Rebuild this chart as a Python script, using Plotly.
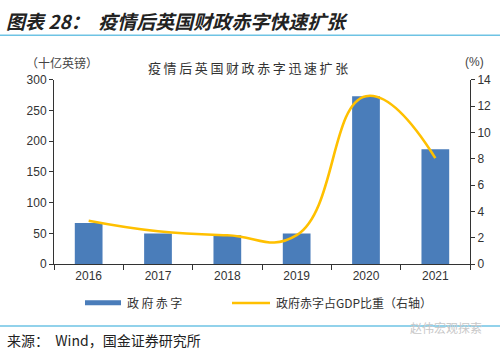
import plotly.graph_objects as go

years = ['2016', '2017', '2018', '2019', '2020', '2021']
deficit = [67, 50, 47, 50, 273, 187]
ratio = [3.3, 2.5, 2.2, 2.2, 12.75, 8.05]
left_ticks = [0, 50, 100, 150, 200, 250, 300]
right_ticks = [0, 2, 4, 6, 8, 10, 12, 14]

W, H = 500, 357
BLUE = '#4A7DBA'
GOLD = '#FFC000'
CJK = 'Noto Sans CJK SC'
LAT = 'Liberation Sans, Arial'
TS = '\u2009'

def px(x):
    return x / W

def py(y):
    return 1 - y / H

fig = go.Figure()
fig.add_trace(go.Bar(x=years, y=deficit, marker=dict(color=BLUE, line=dict(width=0)),
                     name='政府赤字', yaxis='y', showlegend=False))
fig.add_trace(go.Scatter(x=years, y=ratio, mode='lines', line=dict(color=GOLD, width=2.6, shape='spline', smoothing=1.3),
                         name='政府赤字占GDP比重（右轴）', yaxis='y2', showlegend=False))

tickfont = dict(family=LAT, size=12, color='#333')
fig.update_layout(
    width=W, height=H, margin=dict(l=0, r=0, t=0, b=0),
    paper_bgcolor='white', plot_bgcolor='white',
    bargap=0.6,
    xaxis=dict(domain=[px(54), px(470)], type='category', showline=True, linecolor='#333', linewidth=1,
               ticks='outside', tickson='boundaries', ticklen=5, tickcolor='#333',
               tickfont=tickfont, showgrid=False, anchor='y'),
    yaxis=dict(domain=[py(267.7), py(75.7)], range=[0, 300], tickvals=left_ticks, showline=True, linecolor='#333',
               linewidth=1, ticks='outside', ticklen=4, tickcolor='#333', showgrid=False, zeroline=False,
               tickfont=tickfont, anchor='x'),
    yaxis2=dict(domain=[py(267.7), py(75.7)], range=[0, 14], tickvals=right_ticks, overlaying='y', side='right',
                showline=True, linecolor='#333', linewidth=1, ticks='outside', ticklen=4, tickcolor='#333',
                showgrid=False, zeroline=False, tickfont=tickfont, anchor='x'),
)

shapes = [
    dict(type='line', xref='paper', yref='paper', x0=0, x1=1, y0=py(29.5), y1=py(29.5),
         line=dict(color='#6EC3E4', width=1.5)),
    dict(type='line', xref='paper', yref='paper', x0=0, x1=1, y0=py(332), y1=py(332),
         line=dict(color='#6EC3E4', width=1.5)),
    dict(type='rect', xref='paper', yref='paper', x0=px(85), x1=px(121), y0=py(310.5), y1=py(305.3),
         fillcolor=BLUE, line=dict(width=0)),
    dict(type='line', xref='paper', yref='paper', x0=px(232), x1=px(270), y0=py(308), y1=py(308),
         line=dict(color=GOLD, width=2.5)),
]

def ann(text, x, y, size, family=CJK, color='#333', xanchor='left', bold=False):
    return dict(text=('<b><i>%s</i></b>' % text) if bold else text, x=px(x), y=py(y), xref='paper', yref='paper',
                showarrow=False, xanchor=xanchor, yanchor='middle',
                font=dict(family=family, size=size, color=color))

annotations = [
    ann('图表 28：  疫情后英国财政赤字快速扩张', 4, 14, 19, color='#222', bold=True),
    ann('（十亿英镑）', 62, 58, 12, xanchor='center', color='#444'),
    ann(TS.join('疫情后英国财政赤字迅速扩张'), 248, 63, 13, xanchor='center', color='#333'),
    ann('(%)', 474, 57, 12, family=LAT, xanchor='center', color='#444'),
    ann(TS.join('政府赤字'), 125, 308, 12, color='#333'),
    ann('政府赤字占GDP比重（右轴）', 274, 308, 12, color='#333'),
    ann('来源：  Wind，国金证券研究所', 5, 347, 14, color='#222'),
    ann('赵伟宏观探索', 484, 334, 12, color='#c8c8c8', xanchor='right'),
]

fig.update_layout(shapes=shapes, annotations=annotations)
fig.write_html('out.html', config={'displayModeBar': False},
               post_script="document.body.style.margin='0';document.body.style.overflow='hidden';")
